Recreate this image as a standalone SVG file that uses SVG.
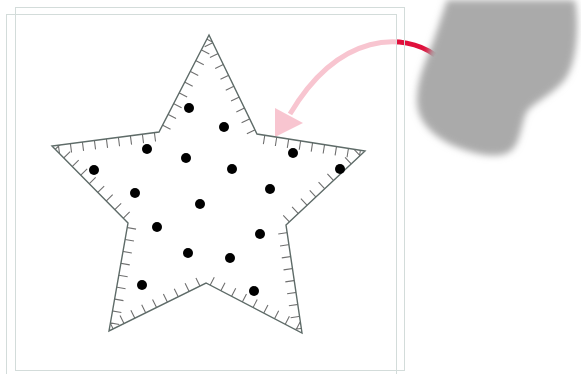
<svg xmlns="http://www.w3.org/2000/svg" width="581" height="374" viewBox="0 0 581 374">
<style>
.frame{fill:none;stroke:#d3dcda;stroke-width:1}
.edge{fill:none;stroke:#5e6b68;stroke-width:1.4;stroke-linejoin:miter}
.ticks{fill:none;stroke:#707070;stroke-width:18;stroke-dasharray:1.1 11;stroke-dashoffset:8;stroke-linecap:butt}
.dot{fill:#000}
.conn{fill:none;stroke:#e0103c;stroke-width:5}
</style>
<defs>
<filter id="blur" x="-20%" y="-20%" width="140%" height="140%"><feGaussianBlur stdDeviation="3.5"/></filter>
<clipPath id="starclip"><polygon points="209,35 159,132 52,146 128,223 109,331 206,283 302,333 286,225 365,151 257,134"/></clipPath>
</defs>
<rect width="581" height="374" fill="#fff"/>
<g id="connectors">
<path class="conn" d="M435,55 C405,33 340,30 290,114"/>
<polygon points="275,137 275,108 303,123" fill="#e0103c"/>
</g>
<rect x="6" y="14" width="390" height="370" fill="#fff" fill-opacity="0.76"/>
<g id="blob">
<path d="M447,0 L575,0 C579,20 578,60 566,78 C556,92 538,100 528,110 C521,120 522,140 512,150 C500,160 475,155 452,145 C430,134 417,120 417,100 C417,80 426,60 433,42 C438,28 443,12 447,0 Z" fill="#aaa" filter="url(#blur)"/>
</g>
<g id="frames">
<rect class="frame" x="15.5" y="7.5" width="389" height="363"/>
<rect class="frame" x="6.5" y="14.5" width="390" height="370"/>
</g>
<g id="star">
<path class="ticks" clip-path="url(#starclip)" d="M209,35 L159,132 M159,132 L52,146 M52,146 L128,223 M128,223 L109,331 M109,331 L206,283 M206,283 L302,333 M302,333 L286,225 M286,225 L365,151 M365,151 L257,134 M257,134 L209,35"/>
<polygon class="edge" points="209,35 159,132 52,146 128,223 109,331 206,283 302,333 286,225 365,151 257,134"/>
</g>
<g id="dots">
<circle class="dot" cx="189" cy="108" r="5"/>
<circle class="dot" cx="224" cy="127" r="5"/>
<circle class="dot" cx="147" cy="149" r="5"/>
<circle class="dot" cx="186" cy="158" r="5"/>
<circle class="dot" cx="232" cy="169" r="5"/>
<circle class="dot" cx="293" cy="153" r="5"/>
<circle class="dot" cx="94" cy="170" r="5"/>
<circle class="dot" cx="340" cy="169" r="5"/>
<circle class="dot" cx="135" cy="193" r="5"/>
<circle class="dot" cx="270" cy="189" r="5"/>
<circle class="dot" cx="200" cy="204" r="5"/>
<circle class="dot" cx="157" cy="227" r="5"/>
<circle class="dot" cx="260" cy="234" r="5"/>
<circle class="dot" cx="188" cy="253" r="5"/>
<circle class="dot" cx="230" cy="258" r="5"/>
<circle class="dot" cx="142" cy="285" r="5"/>
<circle class="dot" cx="254" cy="291" r="5"/>
</g>
</svg>
